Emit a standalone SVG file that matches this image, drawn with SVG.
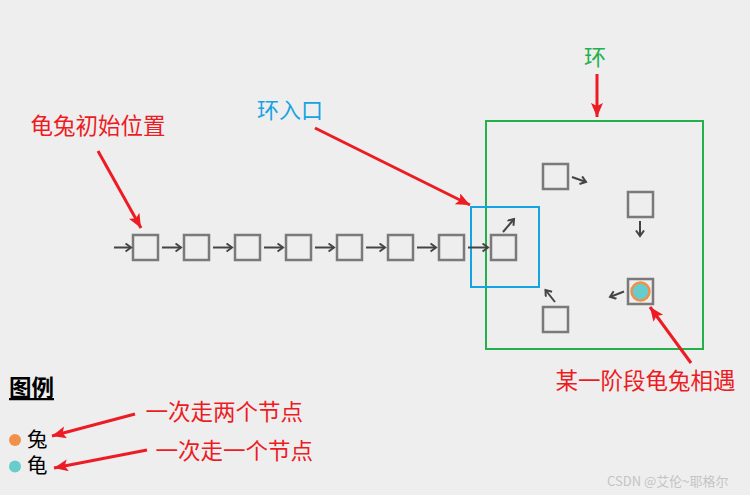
<svg xmlns="http://www.w3.org/2000/svg" width="750" height="495" viewBox="0 0 750 495">
<style>
.bg{fill:#eeeeee}
.node{fill:none;stroke:#7a7a7a;stroke-width:2.5}
.ga{stroke:#444;stroke-width:2;fill:none;marker-end:url(#gh)}
.ra{stroke:#ed1c24;stroke-width:3;fill:none;marker-end:url(#rh)}
.t{font-family:"Noto Sans CJK SC","Microsoft YaHei",sans-serif}
.red{fill:#ed1c24}
</style>
<defs>
<marker id="gh" markerUnits="userSpaceOnUse" markerWidth="10" markerHeight="10" refX="6.5" refY="4.5" orient="auto">
<path d="M1,0.5 L6.5,4.5 L1,8.5" fill="none" stroke="#444" stroke-width="2"/>
</marker>
<marker id="rh" markerUnits="userSpaceOnUse" markerWidth="16" markerHeight="14" refX="14" refY="6" orient="auto">
<path d="M0,0 L14,6 L0,12 L3,6 Z" fill="#ed1c24"/>
</marker>
</defs>
<rect class="bg" x="0" y="0" width="750" height="495"/>

<g id="loop-region">
<rect x="486" y="121" width="217" height="228" fill="none" stroke="#22b14c" stroke-width="2"/>
</g>
<g id="entry-region">
<rect x="471" y="207" width="68" height="80" fill="none" stroke="#15a3e3" stroke-width="2"/>
</g>

<g id="n1"><rect class="node" x="133" y="235" width="25" height="25"/></g>
<g id="n2"><rect class="node" x="184" y="235" width="25" height="25"/></g>
<g id="n3"><rect class="node" x="235" y="235" width="25" height="25"/></g>
<g id="n4"><rect class="node" x="286" y="235" width="25" height="25"/></g>
<g id="n5"><rect class="node" x="337" y="235" width="25" height="25"/></g>
<g id="n6"><rect class="node" x="388" y="235" width="25" height="25"/></g>
<g id="n7"><rect class="node" x="439" y="235" width="25" height="25"/></g>
<g id="n8"><rect class="node" x="491" y="235" width="25" height="25"/></g>
<g id="n9"><rect class="node" x="543" y="164" width="25" height="25"/></g>
<g id="n10"><rect class="node" x="628" y="192" width="25" height="25"/></g>
<g id="n11"><rect class="node" x="628" y="279" width="25" height="25"/>
<circle cx="640.5" cy="291.5" r="9" fill="#66cccc" stroke="#f0904a" stroke-width="2.5"/></g>
<g id="n12"><rect class="node" x="543" y="307" width="25" height="25"/></g>

<g id="connectors">
<line class="ga" x1="114" y1="247.5" x2="131" y2="247.5"/>
<line class="ga" x1="162" y1="247.5" x2="181" y2="247.5"/>
<line class="ga" x1="213" y1="247.5" x2="232" y2="247.5"/>
<line class="ga" x1="264" y1="247.5" x2="283" y2="247.5"/>
<line class="ga" x1="315" y1="247.5" x2="334" y2="247.5"/>
<line class="ga" x1="366" y1="247.5" x2="385" y2="247.5"/>
<line class="ga" x1="417" y1="247.5" x2="436" y2="247.5"/>
<line class="ga" x1="468" y1="247.5" x2="488" y2="247.5"/>
<line class="ga" x1="503" y1="232" x2="514" y2="219"/>
<line class="ga" x1="572" y1="177" x2="586" y2="182"/>
<line class="ga" x1="640" y1="221" x2="640" y2="236"/>
<line class="ga" x1="624" y1="291.5" x2="610" y2="297"/>
<line class="ga" x1="555" y1="302" x2="545.5" y2="290"/>

<line class="ra" x1="98" y1="151" x2="141" y2="228"/>
<line class="ra" x1="315" y1="128" x2="470" y2="205"/>
<line class="ra" x1="597" y1="74" x2="597" y2="117"/>
<line class="ra" x1="691" y1="363" x2="650" y2="307"/>
<line class="ra" x1="135" y1="414" x2="52" y2="436"/>
<line class="ra" x1="147" y1="450" x2="54" y2="468"/>
</g>

<text class="t red" x="30.5" y="134" font-size="22.5">龟兔初始位置</text>
<text class="t" x="257" y="118" fill="#15a3e3" font-size="22">环入口</text>
<text class="t" x="584" y="65" fill="#22b14c" font-size="22">环</text>
<text class="t red" x="555.5" y="389" font-size="22.5">某一阶段龟兔相遇</text>

<g id="legend">
<text class="t" x="9" y="396" font-size="22.5" font-weight="bold" fill="#000" text-decoration="underline">图例</text>
<circle cx="15" cy="440" r="6" fill="#f0904a"/>
<circle cx="15" cy="466.5" r="6" fill="#66cccc"/>
<text class="t" x="27" y="447" font-size="20.5" fill="#000">兔</text>
<text class="t" x="27" y="473" font-size="20.5" fill="#000">龟</text>
<text class="t red" x="145.5" y="420" font-size="22.5">一次走两个节点</text>
<text class="t red" x="155.5" y="459" font-size="22.5">一次走一个节点</text>
</g>

<text x="607" y="486" font-family="'Noto Sans CJK SC',sans-serif" font-size="13" fill="#c4c4c4">CSDN @艾伦~耶格尔</text>
</svg>
